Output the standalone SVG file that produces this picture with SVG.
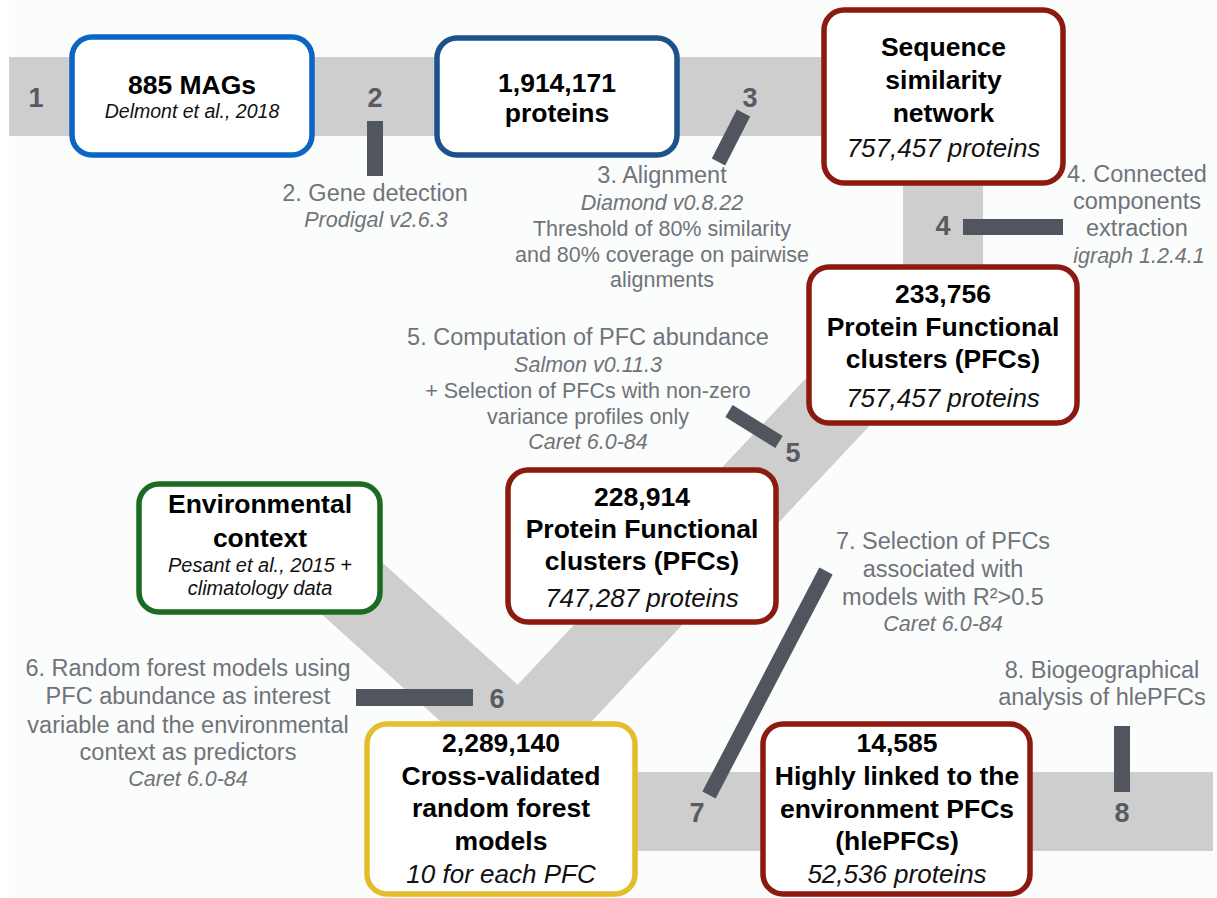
<svg xmlns="http://www.w3.org/2000/svg" width="1217" height="898" viewBox="0 0 1217 898">
<style>
.bg{fill:#fbfcfc}
.band{fill:#cecece}
.bandl{fill:none;stroke:#cecece;stroke-width:79;stroke-linejoin:miter}
.bar{fill:#51555d}
.barl{stroke:#51555d;stroke-width:15;fill:none}
.box{fill:#ffffff;stroke-width:5.5}
.b{font-family:"Liberation Sans",Arial,sans-serif;font-weight:bold;font-size:26.5px;fill:#000;text-anchor:middle}
.i{font-family:"Liberation Sans",Arial,sans-serif;font-style:italic;font-size:26px;fill:#111;text-anchor:middle}
.ci{font-family:"Liberation Sans",Arial,sans-serif;font-style:italic;font-size:20px;fill:#111;text-anchor:middle}
.num{font-family:"Liberation Sans",Arial,sans-serif;font-weight:bold;font-size:27px;fill:#575b62;text-anchor:middle}
.a{font-family:"Liberation Sans",Arial,sans-serif;font-size:23.5px;fill:#707379;text-anchor:middle}
.d{font-family:"Liberation Sans",Arial,sans-serif;font-size:21.5px;fill:#707379;text-anchor:middle}
.ai{font-family:"Liberation Sans",Arial,sans-serif;font-style:italic;font-size:21.5px;fill:#707379;text-anchor:middle}
</style>
<rect x="0" y="0" width="1217" height="898" fill="#ffffff"/>
<rect class="bg" x="9" y="0" width="1208" height="898"/>
<g id="connectors">
  <rect class="band" x="9" y="57" width="934" height="79"/>
  <rect class="band" x="903" y="100" width="80" height="200"/>
  <polyline class="bandl" points="305,546 520,740 943,290"/>
  <rect class="band" x="500" y="772" width="713" height="79"/>
  <rect class="bar" x="367" y="121" width="16" height="55"/>
  <line class="barl" x1="743.5" y1="113" x2="718.5" y2="162"/>
  <rect class="bar" x="963" y="219" width="100" height="16"/>
  <line class="barl" x1="729" y1="411" x2="779" y2="442" style="stroke-width:14"/>
  <rect class="bar" x="356" y="689" width="117" height="17"/>
  <line class="barl" x1="826" y1="571" x2="709" y2="795"/>
  <rect class="bar" x="1114" y="726" width="16" height="66"/>
</g>
<g id="step-numbers">
  <text class="num" x="36" y="107">1</text>
  <text class="num" x="375" y="107">2</text>
  <text class="num" x="750" y="107">3</text>
  <text class="num" x="943" y="235">4</text>
  <text class="num" x="793" y="462">5</text>
  <text class="num" x="497" y="708">6</text>
  <text class="num" x="697" y="822">7</text>
  <text class="num" x="1122" y="822">8</text>
</g>
<g id="step2-label">
  <text class="a" x="375" y="201">2. Gene detection</text>
  <text class="ai" x="376" y="227">Prodigal v2.6.3</text>
</g>
<g id="step3-label">
  <text class="a" x="662" y="183">3. Alignment</text>
  <text class="ai" x="662" y="210">Diamond v0.8.22</text>
  <text class="d" x="662" y="236">Threshold of 80% similarity</text>
  <text class="d" x="662" y="262">and 80% coverage on pairwise</text>
  <text class="d" x="662" y="287">alignments</text>
</g>
<g id="step4-label">
  <text class="a" x="1137" y="182">4. Connected</text>
  <text class="a" x="1137" y="209">components</text>
  <text class="a" x="1137" y="236">extraction</text>
  <text class="ai" x="1139" y="263">igraph 1.2.4.1</text>
</g>
<g id="step5-label">
  <text class="a" x="588" y="345">5. Computation of PFC abundance</text>
  <text class="ai" x="588" y="372">Salmon v0.11.3</text>
  <text class="d" x="588" y="398">+ Selection of PFCs with non-zero</text>
  <text class="d" x="588" y="424">variance profiles only</text>
  <text class="ai" x="588" y="449">Caret 6.0-84</text>
</g>
<g id="step6-label">
  <text class="a" x="188" y="676">6. Random forest models using</text>
  <text class="a" x="188" y="704">PFC abundance as interest</text>
  <text class="a" x="188" y="733">variable and the environmental</text>
  <text class="a" x="188" y="760">context as predictors</text>
  <text class="ai" x="188" y="786">Caret 6.0-84</text>
</g>
<g id="step7-label">
  <text class="a" x="943" y="549">7. Selection of PFCs</text>
  <text class="a" x="943" y="577">associated with</text>
  <text class="a" x="943" y="605">models with R²&gt;0.5</text>
  <text class="ai" x="943" y="631">Caret 6.0-84</text>
</g>
<g id="step8-label">
  <text class="a" x="1102" y="678">8. Biogeographical</text>
  <text class="a" x="1102" y="705">analysis of hlePFCs</text>
</g>
<g id="node-mags">
  <rect class="box" x="72" y="37" width="240" height="118" rx="20" stroke="#0a66c2"/>
  <text class="b" x="192" y="94">885 MAGs</text>
  <text class="ci" x="192" y="118" style="font-size:19.5px">Delmont et al., 2018</text>
</g>
<g id="node-proteins">
  <rect class="box" x="437" y="38" width="240" height="117" rx="20" stroke="#1c5289"/>
  <text class="b" x="557" y="92">1,914,171</text>
  <text class="b" x="557" y="122">proteins</text>
</g>
<g id="node-ssn">
  <rect class="box" x="824" y="10" width="239" height="173" rx="20" stroke="#8b1a10"/>
  <text class="b" x="943.5" y="56">Sequence</text>
  <text class="b" x="943.5" y="89">similarity</text>
  <text class="b" x="943.5" y="122">network</text>
  <text class="i" x="943.5" y="157">757,457 proteins</text>
</g>
<g id="node-pfc1">
  <rect class="box" x="809" y="267" width="268" height="156" rx="20" stroke="#8b1a10"/>
  <text class="b" x="943" y="303">233,756</text>
  <text class="b" x="943" y="336">Protein Functional</text>
  <text class="b" x="943" y="368">clusters (PFCs)</text>
  <text class="i" x="943" y="407">757,457 proteins</text>
</g>
<g id="node-pfc2">
  <rect class="box" x="508" y="470" width="268" height="152" rx="20" stroke="#8b1a10"/>
  <text class="b" x="642" y="506">228,914</text>
  <text class="b" x="642" y="538">Protein Functional</text>
  <text class="b" x="642" y="570">clusters (PFCs)</text>
  <text class="i" x="642" y="607">747,287 proteins</text>
</g>
<g id="node-env">
  <rect class="box" x="139" y="484" width="241" height="128" rx="20" stroke="#1b6b22"/>
  <text class="b" x="260" y="513">Environmental</text>
  <text class="b" x="260" y="547">context</text>
  <text class="ci" x="260" y="572">Pesant et al., 2015 +</text>
  <text class="ci" x="260" y="595">climatology data</text>
</g>
<g id="node-rf">
  <rect class="box" x="367" y="724" width="268" height="170" rx="20" stroke="#e2bd2c"/>
  <text class="b" x="501" y="752">2,289,140</text>
  <text class="b" x="501" y="785">Cross-validated</text>
  <text class="b" x="501" y="817">random forest</text>
  <text class="b" x="501" y="850">models</text>
  <text class="i" x="501" y="883">10 for each PFC</text>
</g>
<g id="node-hle">
  <rect class="box" x="763" y="724" width="267" height="170" rx="20" stroke="#8b1a10"/>
  <text class="b" x="897" y="752">14,585</text>
  <text class="b" x="897" y="785">Highly linked to the</text>
  <text class="b" x="897" y="818">environment PFCs</text>
  <text class="b" x="897" y="850">(hlePFCs)</text>
  <text class="i" x="897" y="883">52,536 proteins</text>
</g>
</svg>
